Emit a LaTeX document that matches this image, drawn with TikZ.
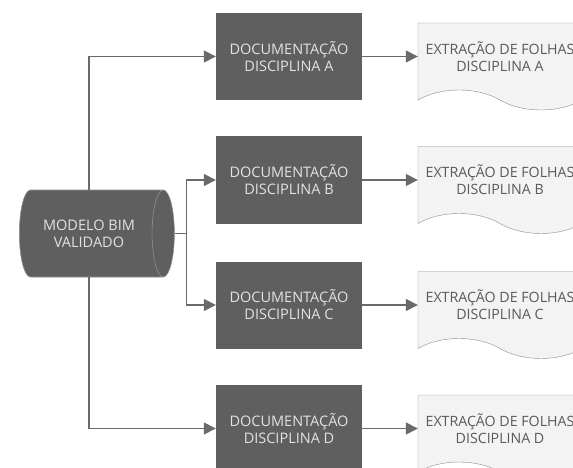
\documentclass[tikz,border=0pt]{standalone}
\usepackage{fontspec}
\setmainfont{Open Sans}
\usetikzlibrary{arrows.meta,shapes.geometric,shapes.symbols}
\definecolor{boxgray}{HTML}{5F5F5F}
\definecolor{linegray}{HTML}{6A6A6A}
\definecolor{docfill}{HTML}{F3F3F3}
\definecolor{docline}{HTML}{8C8C8C}
\definecolor{boxtext}{HTML}{E2E2E2}
\definecolor{doctext}{HTML}{5A5A5A}
\tikzset{
  disc/.style={rectangle, fill=boxgray, minimum width=146pt, minimum height=87pt,
    text=boxtext, align=center, font=\fontsize{14.5}{17}\selectfont},
  folhas/.style={tape, tape bend top=none, tape bend bottom=out and in,
    tape bend height=20pt, draw=docline, fill=docfill, minimum width=164pt,
    minimum height=87pt, text=doctext, align=center, font=\fontsize{14.2}{17}\selectfont},
  modelo/.style={cylinder, shape aspect=0.65, minimum width=87pt, minimum height=155pt,
    fill=boxgray, draw=boxgray!70!white, line width=0.6pt,
    text=boxtext, align=center, font=\fontsize{14.5}{17}\selectfont},
  fluxo/.style={draw=linegray, line width=1.5pt, -{Triangle[length=12pt,width=12pt]}},
}
\begin{document}
\begin{tikzpicture}[x=1pt,y=-1pt]
\useasboundingbox (0,0) rectangle (573,468);
\clip (0,0) rectangle (573,468);
\node[modelo] (modelo) at (89,233.5) {MODELO BIM\\VALIDADO};
\node[disc] (discA) at (289,56.5) {DOCUMENTAÇÃO\\DISCIPLINA A};
\node[disc] (discB) at (289,180) {DOCUMENTAÇÃO\\DISCIPLINA B};
\node[disc] (discC) at (289,305) {DOCUMENTAÇÃO\\DISCIPLINA C};
\node[disc] (discD) at (289,428.5) {DOCUMENTAÇÃO\\DISCIPLINA D};
\node[folhas] (folhasA) at (500,56.5) {EXTRAÇÃO DE FOLHAS\\DISCIPLINA A};
\node[folhas] (folhasB) at (500,180) {EXTRAÇÃO DE FOLHAS\\DISCIPLINA B};
\node[folhas] (folhasC) at (500,305) {EXTRAÇÃO DE FOLHAS\\DISCIPLINA C};
\node[folhas] (folhasD) at (500,428.5) {EXTRAÇÃO DE FOLHAS\\DISCIPLINA D};
% ramos do modelo
\coordinate (garfo) at ([xshift=12pt]modelo.east);
\draw[fluxo] (modelo.north) |- (discA.west);
\draw[draw=linegray, line width=1.5pt] (modelo.east) -- (garfo);
\draw[fluxo] (garfo) |- (discB.west);
\draw[fluxo] (garfo) |- (discC.west);
\draw[fluxo] (modelo.south) |- (discD.west);
% documentacao -> extracao
\draw[fluxo] (discA.east) -- (discA.east -| folhasA.west);
\draw[fluxo] (discB.east) -- (discB.east -| folhasB.west);
\draw[fluxo] (discC.east) -- (discC.east -| folhasC.west);
\draw[fluxo] (discD.east) -- (discD.east -| folhasD.west);
\end{tikzpicture}
\end{document}
